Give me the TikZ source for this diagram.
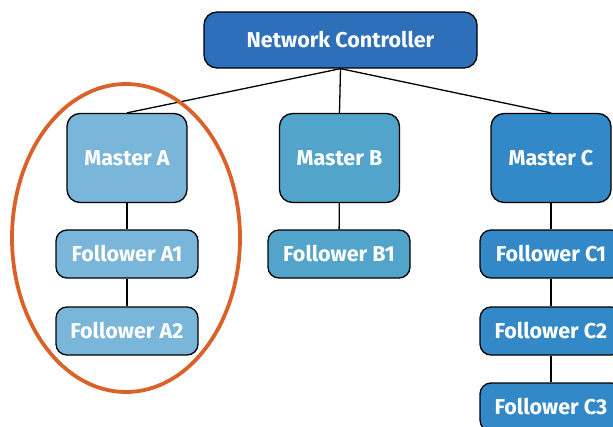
\documentclass[tikz,border=0pt]{standalone}
\usepackage{fontspec}
\setmainfont{Fira Sans}
\usetikzlibrary{shapes.geometric}
\definecolor{ctrlblue}{HTML}{2D6FB8}
\definecolor{ablue}{HTML}{7AB5DA}
\definecolor{bblue}{HTML}{52A4CB}
\definecolor{cblue}{HTML}{3389C7}
\definecolor{grouporange}{HTML}{D9622B}
\tikzset{
  box/.style={draw=black,line width=1.3pt,text=white,inner sep=0pt,
    font=\fontsize{21.5}{24}\selectfont\bfseries},
  master/.style={box,minimum width=120pt,minimum height=89pt,rounded corners=13pt},
  follower/.style={box,minimum width=142pt,minimum height=48pt,rounded corners=11pt},
  link/.style={line width=1.3pt}
}
\begin{document}
\begin{tikzpicture}[x=1pt,y=-1pt]
    \useasboundingbox (0,0) rectangle (613,426);
    \clip (0,0) rectangle (613,426);

    \node[box,fill=ctrlblue,minimum width=273pt,minimum height=56pt,rounded corners=13pt] (nc) at (340.5,40) {Network Controller};

    \node[master,fill=ablue] (ma) at (127,158) {Master A};
    \node[master,fill=bblue] (mb) at (339.5,158) {Master B};
    \node[master,fill=cblue] (mc) at (551,158) {Master C};

    \node[follower,fill=ablue] (fa1) at (127,254) {Follower A1};
    \node[follower,fill=ablue] (fa2) at (127,331) {Follower A2};
    \node[follower,fill=bblue] (fb1) at (339,254) {Follower B1};
    \node[follower,fill=cblue] (fc1) at (551,254) {Follower C1};
    \node[follower,fill=cblue] (fc2) at (551,331) {Follower C2};
    \node[follower,fill=cblue] (fc3) at (551,407) {Follower C3};

    \draw[link] (nc.south) -- (ma.north);
    \draw[link] (nc.south) -- (mb.north);
    \draw[link] (nc.south) -- (mc.north);
    \draw[link] (ma) -- (fa1);
    \draw[link] (fa1) -- (fa2);
    \draw[link] (mb) -- (fb1);
    \draw[link] (mc) -- (fc1);
    \draw[link] (fc1) -- (fc2);
    \draw[link] (fc2) -- (fc3);

    % group round master A
    \node[draw=grouporange,line width=3.8pt,ellipse,minimum width=228pt,minimum height=308pt,inner sep=0pt] (groupa) at (126,238) {};
\end{tikzpicture}
\end{document}
